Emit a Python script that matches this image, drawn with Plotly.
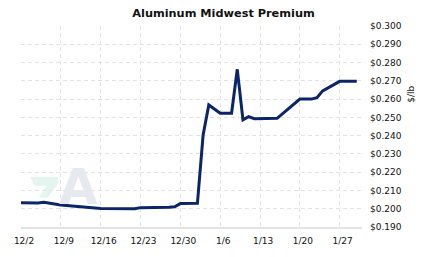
import plotly.graph_objects as go

dates = ["2019-12-02", "2019-12-05", "2019-12-06", "2019-12-09", "2019-12-12",
         "2019-12-16", "2019-12-22", "2019-12-23", "2019-12-28", "2019-12-29",
         "2019-12-30", "2020-01-02", "2020-01-03", "2020-01-04", "2020-01-06",
         "2020-01-08", "2020-01-09", "2020-01-10", "2020-01-11", "2020-01-12",
         "2020-01-16", "2020-01-20", "2020-01-22", "2020-01-23", "2020-01-24",
         "2020-01-25", "2020-01-26", "2020-01-27", "2020-01-30"]
prices = [0.2033, 0.2031, 0.2035, 0.2020, 0.2012,
          0.2001, 0.2000, 0.2006, 0.2008, 0.2011,
          0.2028, 0.2030, 0.2404, 0.2568, 0.2523,
          0.2523, 0.2763, 0.2486, 0.2504, 0.2493,
          0.2495, 0.2600, 0.2600, 0.2608, 0.2645,
          0.2663, 0.2678, 0.2697, 0.2697]

tick_dates = ["2019-12-02", "2019-12-09", "2019-12-16", "2019-12-23", "2019-12-30",
              "2020-01-06", "2020-01-13", "2020-01-20", "2020-01-27"]
tick_labels = ["12/2", "12/9", "12/16", "12/23", "12/30", "1/6", "1/13", "1/20", "1/27"]

title_text = "Aluminum Midwest Premium"
unit_text = "$/lb"

FONT = "DejaVu Sans"

fig = go.Figure()
fig.add_trace(go.Scatter(x=dates, y=prices, mode="lines",
                         line=dict(color="#0b2566", width=3), hoverinfo="skip"))

fig.update_layout(
    width=423, height=257,
    margin=dict(l=21, r=61, t=26, b=30),
    paper_bgcolor="white", plot_bgcolor="white",
    showlegend=False,
    font=dict(family=FONT, size=9, color="#111111"),
    title=dict(text=title_text, x=223.5/423, xanchor="center", y=1-13.5/257, yanchor="middle",
               font=dict(family=FONT, size=11.3, color="#111111", weight="bold")),
    xaxis=dict(type="date", range=["2019-12-02", "2020-01-30 22:00"],
               tickvals=tick_dates, ticktext=tick_labels,
               showgrid=True, gridcolor="#e3e3e3", griddash="4px,3px", gridwidth=1,
               showline=True, linecolor="#e3e3e3", linewidth=2,
               ticks="", ticklabelshift=3, ticklabelstandoff=4,
               zeroline=False, tickfont=dict(family=FONT, size=9, color="#111111")),
    yaxis=dict(side="right", range=[0.190, 0.300], dtick=0.01, tick0=0.19,
               tickprefix="$", tickformat=".3f",
               showgrid=True, gridcolor="#e3e3e3", griddash="4px,3px", gridwidth=1,
               showline=False, ticks="", zeroline=False, ticklabelstandoff=7,
               tickfont=dict(family=FONT, size=9, color="#111111")),
)

fig.add_annotation(text=unit_text, xref="paper", yref="paper",
                   x=1 + (411 - 362) / 341, y=1 - (95 - 26) / 202,
                   xanchor="center", yanchor="middle", textangle=-90, showarrow=False,
                   font=dict(family=FONT, size=9, color="#111111"))

# faint logo watermark
fig.add_shape(type="path", xref="x domain", yref="y domain", layer="below",
              path="M 0.027 0.25 L 0.108 0.25 L 0.108 0.215 L 0.078 0.145 L 0.052 0.145 L 0.075 0.205 L 0.04 0.205 Z",
              fillcolor="#e3f5ee", line=dict(width=0))
fig.add_annotation(text="A", xref="x domain", yref="y domain", x=0.17, y=0.045,
                   xanchor="center", yanchor="bottom", showarrow=False,
                   font=dict(family=FONT, size=50, color="#e6eaf0", weight="bold"))

fig.write_html("out.html")
